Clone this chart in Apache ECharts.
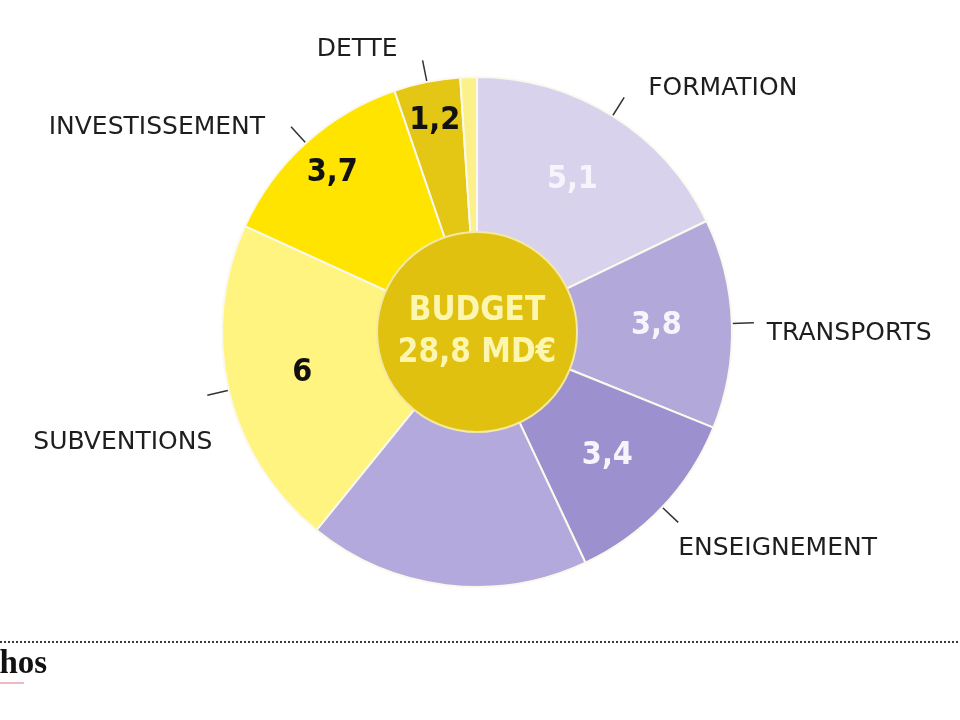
<!DOCTYPE html>
<html>
<head>
<meta charset="utf-8">
<script src="https://cdn.jsdelivr.net/npm/echarts@6/dist/echarts.min.js"></script>
<style>
html,body{margin:0;padding:0;background:#fff;}
#chart{width:960px;height:720px;}
</style>
</head>
<body>
<div id="chart"></div>
<script>
// ---- data ----
const categories = ['FORMATION', 'TRANSPORTS', 'ENSEIGNEMENT', '', 'SUBVENTIONS', 'INVESTISSEMENT', 'DETTE', ''];
const values = [5.1, 3.8, 3.4, 5.1, 6, 3.7, 1.2, 0.3];
const showValue = [true, true, true, false, true, true, true, false];
const centerLines = ['BUDGET', '28,8 MD€'];

// ---- styles ----
const sliceColors = ['#d9d2ec', '#b3a8da', '#9d90ce', '#b4a9dc', '#fff47f', '#ffe400', '#e4c614', '#fcf08a'];
const valueColors = ['#f7f5fc', '#f7f5fc', '#f7f5fc', '#fff', '#111', '#111', '#111', '#111'];
const valueRing = ['mid', 'mid', 'mid', 'mid', 'mid', 'outer', 'outer', 'mid'];
const nameGap = [24, 13, 0, 0, -5, 26, 25, 0];     // horizontal gap text <-> leader line
const nameShift = [-9, 11, 26, 0, 47, 1, -11, 0];   // vertical shift of the label text

const CENTER = [477, 332];
const R_OUT = 255, R_IN = 98;
const condensed = "'DejaVu Sans Condensed', 'DejaVu Sans', sans-serif";
const fmtNum = v => String(v).replace('.', ',');

function nameFormatter(i) {
  const t = '{t|' + categories[i] + '}';
  const s = nameShift[i];
  if (s > 0) return '{g' + i + '| }\n' + t;
  if (s < 0) return t + '\n{g' + i + '| }';
  return t;
}
function nameRich(i) {
  const r = { t: { fontFamily: "'DejaVu Sans', sans-serif", fontSize: 25, color: '#1e1e1e', lineHeight: 30 } };
  r['g' + i] = { fontSize: 2, lineHeight: Math.max(2, Math.abs(nameShift[i]) * 2) };
  return r;
}

const chart = echarts.init(document.getElementById('chart'));
const transparent = { color: 'rgba(0,0,0,0)', borderWidth: 0 };

function valueSeries(ring, radius) {
  return {
    type: 'pie', radius: radius, center: CENTER, startAngle: 90, clockwise: true,
    silent: true, avoidLabelOverlap: false, emphasis: { disabled: true },
    itemStyle: transparent,
    labelLine: { show: false },
    data: values.map((v, i) => ({
      value: v, name: categories[i] || ('s' + i),
      label: {
        show: showValue[i] && valueRing[i] === ring,
        position: 'inside',
        formatter: fmtNum(v),
        color: valueColors[i],
        fontFamily: condensed, fontWeight: 'bold', fontSize: 32
      }
    }))
  };
}

const option = {
  backgroundColor: '#ffffff',
  animation: false,
  series: [
    {
      type: 'pie', radius: [R_IN, R_OUT], center: CENTER, startAngle: 90, clockwise: true,
      silent: true, emphasis: { disabled: true },
      label: { show: false }, labelLine: { show: false },
      itemStyle: { borderColor: '#fbf9ee', borderWidth: 2 },
      data: values.map((v, i) => ({ value: v, name: categories[i] || ('s' + i), itemStyle: { color: sliceColors[i] } }))
    },
    valueSeries('mid', [R_IN, R_OUT]),
    valueSeries('outer', [165, R_OUT + 5]),
    {
      type: 'pie', radius: [R_IN, R_OUT], center: CENTER, startAngle: 90, clockwise: true,
      silent: true, avoidLabelOverlap: false, emphasis: { disabled: true },
      itemStyle: transparent,
      labelLine: { length: 22, length2: 0, lineStyle: { color: '#333', width: 1.5 } },
      data: values.map((v, i) => ({
        value: v, name: categories[i] || ('s' + i),
        label: {
          show: categories[i] !== '',
          position: 'outside',
          distanceToLabelLine: nameGap[i],
          formatter: nameFormatter(i),
          rich: nameRich(i)
        },
        labelLine: { show: categories[i] !== '' }
      }))
    },
    {
      type: 'pie', radius: [0, 100], center: CENTER, silent: true, emphasis: { disabled: true },
      labelLine: { show: false },
      itemStyle: { color: '#e0c10f', borderColor: '#f4e9a2', borderWidth: 2 },
      data: [{
        value: 1, name: centerLines[0],
        label: {
          show: true, position: 'center',
          formatter: centerLines.join('\n'),
          color: '#fcf6b0', fontFamily: condensed, fontWeight: 'bold',
          fontSize: 33, lineHeight: 42
        }
      }]
    }
  ],
  graphic: [
    {
      type: 'line', silent: true,
      shape: { x1: 0, y1: 642, x2: 960, y2: 642 },
      style: { stroke: '#3a3a3a', lineWidth: 2, lineDash: [2, 2] }
    },
    {
      type: 'text', silent: true, left: -95, top: 648,
      style: {
        text: 'Les Echos',
        fill: '#111', font: "bold 33px 'Liberation Serif', serif"
      }
    },
    {
      type: 'line', silent: true,
      shape: { x1: 0, y1: 683, x2: 24, y2: 683 },
      style: { stroke: '#e6a3ab', lineWidth: 1.5 }
    }
  ]
};
chart.setOption(option);
</script>
</body>
</html>
